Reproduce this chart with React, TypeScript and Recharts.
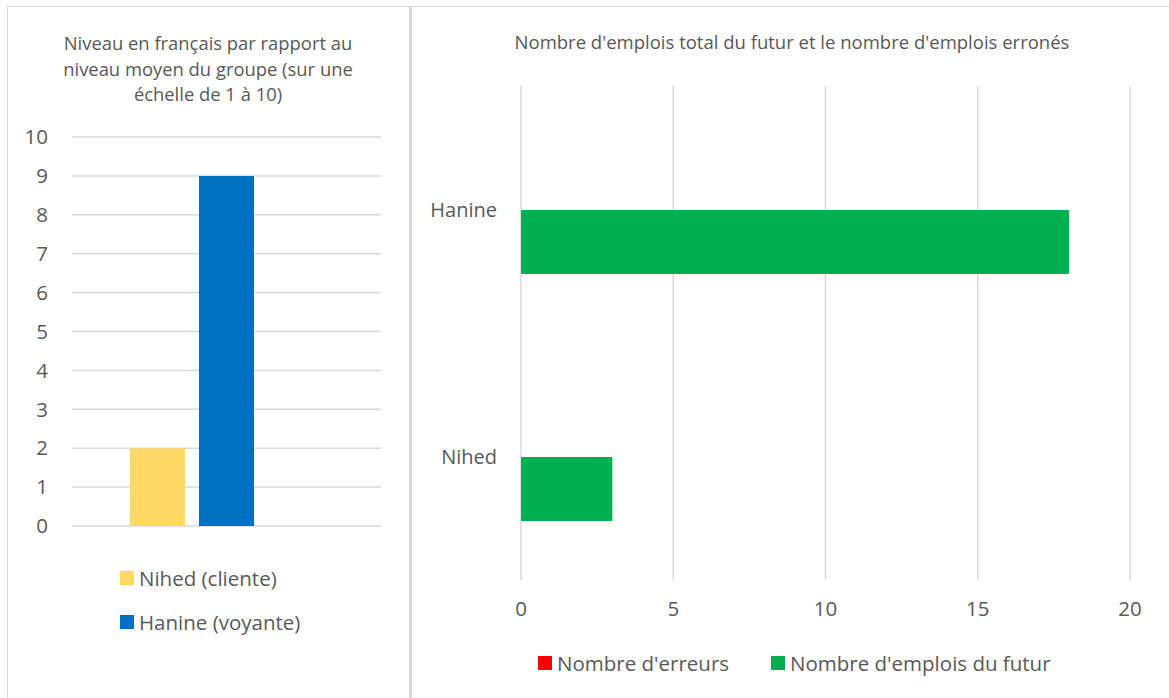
import { Bar, BarChart, CartesianGrid, XAxis, YAxis } from 'recharts'

const levelCategories = ['Niveau']
const nihedLevel = [2]
const hanineLevel = [9]
const levelTicks = [0, 1, 2, 3, 4, 5, 6, 7, 8, 9, 10]

const people = ['Hanine', 'Nihed']
const errorCounts = [0, 0]
const futureCounts = [18, 3]
const futureTicks = [0, 5, 10, 15, 20]

const FONT = '"Open Sans", sans-serif'
const TEXT = '#595959'
const GRID = '#d9d9d9'

const levelData = levelCategories.map((name, i) => ({
  name,
  nihed: nihedLevel[i],
  hanine: hanineLevel[i],
  empty: null,
}))

const futureData = people.map((name, i) => ({
  name,
  errors: errorCounts[i],
  future: futureCounts[i],
}))

function LegendRow({ color, label, style }: { color: string; label: string; style?: React.CSSProperties }) {
  return (
    <div style={{ display: 'flex', alignItems: 'center', height: 24, ...style }}>
      <span style={{ width: 14, height: 14, background: color, marginRight: 5, display: 'inline-block' }} />
      <span>{label}</span>
    </div>
  )
}

export default function App() {
  return (
    <div
      style={{
        position: 'absolute',
        left: 0,
        top: 0,
        width: 1169,
        height: 698,
        background: '#fff',
        fontFamily: FONT,
        color: TEXT,
        overflow: 'hidden',
      }}
    >
      {/* panel borders */}
      <div
        style={{
          position: 'absolute',
          left: 7,
          top: 6,
          width: 405,
          height: 700,
          borderLeft: `1px solid ${GRID}`,
          borderTop: `1px solid ${GRID}`,
          borderRight: `3px solid ${GRID}`,
          boxSizing: 'border-box',
        }}
      />
      <div
        style={{
          position: 'absolute',
          left: 412,
          top: 6,
          width: 757,
          height: 700,
          borderTop: `1px solid ${GRID}`,
          boxSizing: 'border-box',
        }}
      />

      <div
        style={{
          position: 'absolute',
          left: 7,
          top: 30,
          width: 402,
          textAlign: 'center',
          fontSize: 18.4,
          lineHeight: '25.5px',
        }}
      >
        Niveau en français par rapport au
        <br />
        niveau moyen du groupe (sur une
        <br />
        échelle de 1 à 10)
      </div>

      <div style={{ position: 'absolute', left: 7, top: 6 }}>
        <BarChart
          width={402}
          height={692}
          data={levelData}
          margin={{ top: 131, right: 28, bottom: 172, left: 25 }}
          barGap={14}
        >
          <CartesianGrid stroke={GRID} strokeWidth={1.5} vertical={false} />
          <XAxis dataKey="name" hide />
          <YAxis
            width={40}
            domain={[0, 10]}
            ticks={levelTicks}
            interval={0}
            axisLine={false}
            tickLine={false}
            tickSize={0}
            tickMargin={24}
            tick={{ fill: TEXT, fontSize: 20.5, fontFamily: FONT }}
          />
          <Bar dataKey="nihed" name="Nihed (cliente)" fill="#ffd966" barSize={55} isAnimationActive={false} />
          <Bar dataKey="hanine" name="Hanine (voyante)" fill="#0070c0" barSize={55} isAnimationActive={false} />
          <Bar dataKey="empty" fill="#a5a5a5" barSize={55} legendType="none" isAnimationActive={false} />
        </BarChart>
      </div>

      <div style={{ position: 'absolute', left: 120, top: 566, fontSize: 20.5 }}>
        <LegendRow color="#ffd966" label="Nihed (cliente)" />
        <LegendRow color="#0070c0" label="Hanine (voyante)" style={{ marginTop: 20 }} />
      </div>

      {/* right panel */}
      <div
        style={{
          position: 'absolute',
          left: 412,
          top: 29,
          width: 760,
          textAlign: 'center',
          fontSize: 18.5,
          lineHeight: '25px',
        }}
      >
        Nombre d'emplois total du futur et le nombre d'emplois erronés
      </div>

      <div style={{ position: 'absolute', left: 412, top: 6 }}>
        <BarChart
          width={757}
          height={692}
          data={futureData}
          layout="vertical"
          margin={{ top: 80, right: 39, bottom: 86, left: 9 }}
          barGap={0}
        >
          <CartesianGrid stroke={GRID} strokeWidth={1.5} horizontal={false} />
          <XAxis
            type="number"
            domain={[0, 20]}
            ticks={futureTicks}
            interval={0}
            axisLine={false}
            tickLine={false}
            tickSize={0}
            tickMargin={21}
            height={32}
            tick={{ fill: TEXT, fontSize: 20.5, fontFamily: FONT }}
          />
          <YAxis
            type="category"
            dataKey="name"
            width={100}
            axisLine={false}
            tickLine={false}
            tickSize={0}
            tickMargin={24}
            tick={{ fill: TEXT, fontSize: 20, fontFamily: FONT }}
          />
          <Bar dataKey="errors" name="Nombre d'erreurs" fill="#ff0000" barSize={64} isAnimationActive={false} />
          <Bar dataKey="future" name="Nombre d'emplois du futur" fill="#00b050" barSize={64} isAnimationActive={false} />
        </BarChart>
      </div>

      <div style={{ position: 'absolute', left: 538, top: 651, fontSize: 20.5, display: 'flex' }}>
        <LegendRow color="#ff0000" label="Nombre d'erreurs" />
        <LegendRow color="#00b050" label="Nombre d'emplois du futur" style={{ marginLeft: 42 }} />
      </div>
    </div>
  )
}
